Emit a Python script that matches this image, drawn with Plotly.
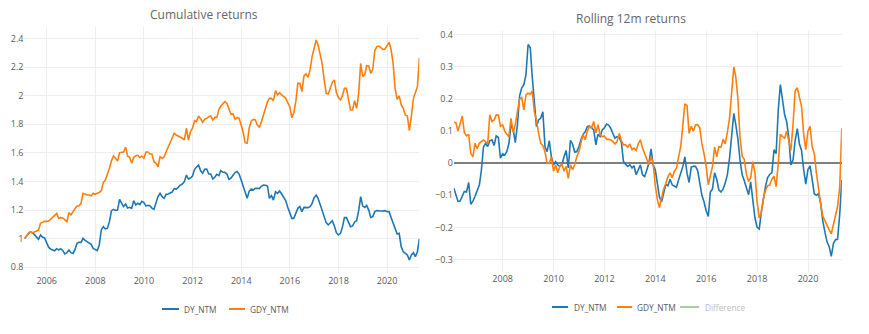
import pandas as pd
import plotly.graph_objects as go

W, H = 869, 334

cum_dates = pd.date_range("2005-01-31", periods=196, freq="ME")
roll_dates = pd.date_range("2006-01-31", periods=184, freq="ME")

dy_cum = [
    1.0, 1.019, 1.033, 1.047, 1.042, 1.028, 1.012, 0.995, 1.026, 1.009,
    1.005, 0.972, 0.939, 0.928, 0.923, 0.916, 0.93, 0.921, 0.93, 0.916,
    0.893, 0.902, 0.921, 0.902, 0.897, 0.921, 0.967, 0.974, 0.974, 1.002,
    0.988, 0.977, 0.97, 0.96, 0.932, 0.925, 0.916, 0.956, 1.061, 1.084,
    1.068, 1.072, 1.119, 1.196, 1.205, 1.198, 1.2, 1.275, 1.247, 1.224,
    1.242, 1.214, 1.219, 1.212, 1.266, 1.235, 1.247, 1.238, 1.261, 1.252,
    1.228, 1.233, 1.231, 1.214, 1.205, 1.247, 1.294, 1.317, 1.294, 1.282,
    1.31, 1.312, 1.317, 1.326, 1.35, 1.347, 1.359, 1.375, 1.382, 1.399,
    1.445, 1.417, 1.424, 1.438, 1.485, 1.503, 1.515, 1.476, 1.457, 1.485,
    1.487, 1.452, 1.452, 1.417, 1.429, 1.45, 1.441, 1.476, 1.464, 1.464,
    1.452, 1.415, 1.424, 1.443, 1.462, 1.469, 1.452, 1.41, 1.364, 1.317,
    1.282, 1.331, 1.347, 1.34, 1.352, 1.352, 1.35, 1.366, 1.375, 1.373,
    1.368, 1.282, 1.301, 1.27, 1.329, 1.317, 1.333, 1.312, 1.287, 1.266,
    1.219, 1.177, 1.142, 1.142, 1.177, 1.212, 1.224, 1.189, 1.219, 1.217,
    1.217, 1.224, 1.247, 1.287, 1.305, 1.282, 1.235, 1.196, 1.154, 1.112,
    1.096, 1.112, 1.126, 1.089, 1.042, 1.026, 1.037, 1.079, 1.147, 1.147,
    1.119, 1.084, 1.089, 1.117, 1.126, 1.196, 1.294, 1.228, 1.219, 1.233,
    1.2, 1.149, 1.154, 1.189, 1.196, 1.193, 1.193, 1.193, 1.196, 1.189,
    1.189, 1.149, 1.107, 1.061, 1.033, 1.037, 0.944, 0.909, 0.897, 0.886,
    0.851, 0.886, 0.902, 0.874, 0.909, 1.0,
]

gdy_cum = [
    1.0, 1.02, 1.037, 1.047, 1.042, 1.047, 1.056, 1.06, 1.107, 1.114,
    1.121, 1.121, 1.124, 1.135, 1.149, 1.163, 1.177, 1.142, 1.147, 1.145,
    1.131, 1.119, 1.182, 1.166, 1.189, 1.207, 1.228, 1.228, 1.247, 1.317,
    1.308, 1.305, 1.305, 1.30, 1.317, 1.31, 1.317, 1.322, 1.336, 1.392,
    1.41, 1.445, 1.492, 1.545, 1.578, 1.562, 1.543, 1.601, 1.601, 1.606,
    1.639, 1.578, 1.569, 1.527, 1.569, 1.58, 1.583, 1.566, 1.578, 1.562,
    1.606, 1.606, 1.592, 1.592, 1.538, 1.527, 1.503, 1.573, 1.562, 1.573,
    1.608, 1.643, 1.667, 1.709, 1.737, 1.725, 1.718, 1.713, 1.702, 1.69,
    1.772, 1.69, 1.748, 1.772, 1.825, 1.818, 1.858, 1.839, 1.814, 1.835,
    1.841, 1.853, 1.858, 1.83, 1.848, 1.848, 1.904, 1.928, 1.942, 1.958,
    1.946, 1.911, 1.869, 1.872, 1.834, 1.848, 1.841, 1.795, 1.741, 1.671,
    1.667, 1.772, 1.821, 1.834, 1.83, 1.795, 1.779, 1.818, 1.865, 1.9,
    1.958, 1.981, 1.981, 1.965, 2.035, 2.005, 2.021, 2.005, 1.993, 1.981,
    1.951, 1.923, 1.845, 1.881, 1.958, 2.086, 2.086, 2.028, 2.138, 2.152,
    2.128, 2.18, 2.273, 2.338, 2.389, 2.354, 2.284, 2.226, 2.11, 2.016,
    2.012, 2.051, 2.093, 2.11, 2.021, 1.986, 1.97, 1.998, 2.051, 2.051,
    1.97, 1.9, 1.9, 1.965, 1.911, 2.016, 2.226, 2.133, 2.149, 2.21,
    2.207, 2.156, 2.184, 2.315, 2.343, 2.347, 2.336, 2.324, 2.326, 2.35,
    2.373, 2.324, 2.226, 2.051, 1.974, 1.998, 1.935, 1.911, 1.865, 1.858,
    1.755, 1.86, 1.981, 2.021, 2.063, 2.265,
]

dy_roll = [
    -0.078, -0.1, -0.119, -0.118, -0.1, -0.088, -0.09, -0.06,
    -0.128, -0.118, -0.103, -0.088, -0.068, -0.025, 0.05, 0.062, 0.052, 0.07,
    0.073, 0.055, 0.085, 0.08, 0.016, 0.029, 0.026, 0.036, 0.062, 0.119,
    0.105, 0.064, 0.12, 0.21, 0.234, 0.245, 0.275, 0.37, 0.36, 0.27,
    0.2, 0.114, 0.135, 0.14, 0.16, 0.05, 0.036, 0.07, 0.02, -0.005,
    0.005, -0.005, -0.01, -0.005, 0.02, 0.04, -0.015, 0.071, 0.06, 0.035,
    0.036, 0.052, 0.075, 0.09, 0.098, 0.114, 0.116, 0.11, 0.104, 0.057,
    0.09, 0.083, 0.104, 0.11, 0.122, 0.119, 0.109, 0.093, 0.078, 0.083,
    0.08, 0.065, 0.005, -0.003, -0.01, -0.005, -0.015, -0.008, -0.036, -0.021,
    -0.005, -0.036, -0.042, -0.021, 0.0, 0.045, -0.005, -0.021, -0.07, -0.105,
    -0.12, -0.09, -0.066, -0.07, -0.05, -0.068, -0.072, -0.075, -0.052, -0.03,
    -0.01, 0.02, -0.031, -0.06, -0.012, -0.01, -0.01, -0.023, -0.058, -0.1,
    -0.12, -0.148, -0.166, -0.09, -0.08, -0.03, -0.05, -0.083, -0.09, -0.08,
    -0.062, -0.035, 0.015, 0.09, 0.155, 0.12, 0.075, 0.01, -0.036, -0.055,
    -0.075, -0.098, -0.058, -0.11, -0.17, -0.2, -0.205, -0.155, -0.11, -0.073,
    -0.045, -0.035, -0.03, 0.042, 0.03, 0.166, 0.245, 0.19, 0.15, 0.13,
    0.08, -0.005, 0.01, 0.07, 0.108, 0.06, 0.04, -0.02, -0.065, -0.02,
    -0.008, -0.05, -0.095, -0.1, -0.095, -0.125, -0.18, -0.215, -0.245, -0.26,
    -0.29, -0.25, -0.238, -0.237, -0.16, -0.052,
]

gdy_roll = [
    0.127, 0.127, 0.1, 0.12, 0.147, 0.095, 0.085, 0.09,
    0.03, 0.02, 0.062, 0.045, 0.062, 0.067, 0.072, 0.067, 0.06, 0.151,
    0.13, 0.135, 0.15, 0.15, 0.115, 0.12, 0.1, 0.09, 0.083, 0.14,
    0.095, 0.12, 0.16, 0.2, 0.205, 0.166, 0.213, 0.218, 0.215, 0.225,
    0.16, 0.135, 0.093, 0.062, 0.055, 0.035, 0.0, 0.0, 0.02, -0.025,
    -0.005, -0.03, -0.01, -0.003, -0.025, -0.01, -0.047, -0.005, -0.02, -0.005,
    0.02, 0.036, 0.065, 0.09, 0.073, 0.1, 0.115, 0.11, 0.13, 0.095,
    0.12, 0.088, 0.083, 0.085, 0.075, 0.073, 0.073, 0.068, 0.06, 0.068,
    0.093, 0.07, 0.057, 0.057, 0.05, 0.06, 0.042, 0.047, 0.04, 0.06,
    0.073, 0.047, 0.03, 0.015, -0.005, 0.02, 0.0, -0.07, -0.115, -0.138,
    -0.11, -0.08, -0.063, -0.042, -0.03, -0.045, -0.025, -0.015, 0.02, 0.052,
    0.12, 0.185, 0.18, 0.093, 0.115, 0.1, 0.119, 0.12, 0.11, 0.06,
    0.03, -0.01, -0.067, -0.035, -0.01, 0.05, 0.02, 0.052, 0.05, 0.075,
    0.06, 0.097, 0.14, 0.22, 0.3, 0.27, 0.2, 0.08, 0.022, 0.012,
    -0.035, -0.057, -0.045, 0.005, -0.03, -0.12, -0.171, -0.155, -0.11, -0.085,
    -0.07, -0.068, -0.05, -0.04, -0.073, 0.0, 0.09, 0.083, 0.078, 0.1,
    0.073, 0.04, 0.12, 0.225, 0.235, 0.2, 0.177, 0.09, 0.042, 0.1,
    0.115, 0.052, 0.03, -0.03, -0.085, -0.125, -0.165, -0.18, -0.198, -0.208,
    -0.22, -0.19, -0.16, -0.135, -0.075, 0.11,
]

diff_roll = [a - b for a, b in zip(dy_roll, gdy_roll)]

BLUE = "#1f77b4"
ORANGE = "#ff7f0e"
GREEN = "#2ca02c"
TXT = "#5a5a5a"
GRID = "#eeeeee"
FONT = "Open Sans"


def px_x(p):
    return p / W


def px_y(p):
    return 1 - p / H


fig = go.Figure()
fig.add_trace(go.Scatter(x=cum_dates, y=dy_cum, name="DY_NTM", mode="lines",
                         line=dict(color=BLUE, width=1.6), xaxis="x", yaxis="y", showlegend=False))
fig.add_trace(go.Scatter(x=cum_dates, y=gdy_cum, name="GDY_NTM", mode="lines",
                         line=dict(color=ORANGE, width=1.6), xaxis="x", yaxis="y", showlegend=False))
fig.add_trace(go.Scatter(x=roll_dates, y=dy_roll, name="DY_NTM", mode="lines",
                         line=dict(color=BLUE, width=1.6), xaxis="x2", yaxis="y2", showlegend=False))
fig.add_trace(go.Scatter(x=roll_dates, y=gdy_roll, name="GDY_NTM", mode="lines",
                         line=dict(color=ORANGE, width=1.6), xaxis="x2", yaxis="y2", showlegend=False))
fig.add_trace(go.Scatter(x=roll_dates, y=diff_roll, name="Difference", mode="lines",
                         line=dict(color=GREEN, width=1.6), xaxis="x2", yaxis="y2",
                         visible="legendonly", showlegend=False))

axis_common = dict(showgrid=True, gridcolor=GRID, gridwidth=1, showline=False,
                   ticks="", tickfont=dict(family=FONT, size=9, color=TXT), automargin=False)

fig.update_layout(
    width=W, height=H,
    margin=dict(l=0, r=0, t=0, b=0),
    paper_bgcolor="white", plot_bgcolor="white",
    font=dict(family=FONT, color=TXT),
    xaxis=dict(domain=[px_x(24.4), px_x(419.4)], anchor="y",
               range=[cum_dates[0], cum_dates[-1]], dtick="M24", tick0="2006-01-01",
               tickformat="%Y", zeroline=False, **axis_common),
    yaxis=dict(domain=[px_y(274), px_y(27)], anchor="x",
               range=[0.753, 2.480], dtick=0.2, zeroline=False, **axis_common),
    xaxis2=dict(domain=[px_x(453.9), px_x(841.8)], anchor="y2",
                range=[roll_dates[0], roll_dates[-1]], dtick="M24", tick0="2006-01-01",
                tickformat="%Y", zeroline=False, **axis_common),
    yaxis2=dict(domain=[px_y(272), px_y(31)], anchor="x2",
                range=[-0.339, 0.412], dtick=0.1, zeroline=True,
                zerolinecolor="#7f7f7f", zerolinewidth=1.5, **axis_common),
    showlegend=False,
)

# titles
fig.add_annotation(text="Cumulative returns", x=px_x(204), y=px_y(15), xref="paper", yref="paper",
                   xanchor="center", yanchor="middle", showarrow=False,
                   font=dict(family=FONT, size=12, color="#666666"))
fig.add_annotation(text="Rolling 12m returns", x=px_x(630.5), y=px_y(19), xref="paper", yref="paper",
                   xanchor="center", yanchor="middle", showarrow=False,
                   font=dict(family=FONT, size=12, color="#666666"))

# manual legends (line sample + label)
legend_items = [
    # (x0, x1, text_x, y, color, label, text color, opacity)
    (162, 179, 182, 309, BLUE, "DY_NTM", TXT, 1.0),
    (229, 245, 248, 309, ORANGE, "GDY_NTM", TXT, 1.0),
    (552, 568, 572, 307, BLUE, "DY_NTM", TXT, 1.0),
    (617, 632, 635, 307, ORANGE, "GDY_NTM", TXT, 1.0),
    (680, 699, 703, 307, GREEN, "Difference", "#bdbdbd", 0.45),
]
for x0, x1, tx, yy, col, lab, tcol, op in legend_items:
    fig.add_shape(type="line", xref="paper", yref="paper",
                  x0=px_x(x0), x1=px_x(x1), y0=px_y(yy), y1=px_y(yy),
                  line=dict(color=col, width=2), opacity=op)
    fig.add_annotation(text=lab, x=px_x(tx), y=px_y(yy), xref="paper", yref="paper",
                       xanchor="left", yanchor="middle", showarrow=False,
                       font=dict(family=FONT, size=8.3, color=tcol))

fig.write_html("out.html")
